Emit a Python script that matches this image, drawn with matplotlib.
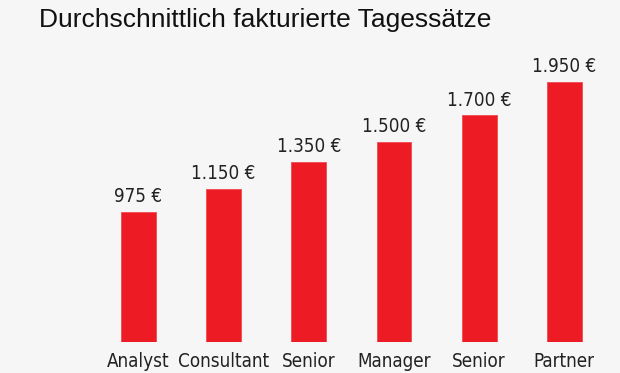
import matplotlib.pyplot as plt

# Datos del grafico
rollen = ['Analyst', 'Consultant', 'Senior', 'Manager', 'Senior', 'Partner']
tagessaetze = [975, 1150, 1350, 1500, 1700, 1950]
etiquetas = ['975 €', '1.150 €', '1.350 €', '1.500 €', '1.700 €', '1.950 €']

fig = plt.figure(figsize=(6.2, 3.73), dpi=100)
fig.patch.set_facecolor('#f6f6f6')
ax = fig.add_axes([95.9 / 620, 31 / 373, 511 / 620, 266.7 / 373])
ax.set_facecolor('none')

x = range(len(rollen))
bars = ax.bar(x, tagessaetze, width=0.41, color='#ed1c24', edgecolor='#f04a50', linewidth=0.6)

# Etiquetas de valor sobre cada barra
for bar, txt in zip(bars, etiquetas):
    ax.annotate(txt, (bar.get_x() + bar.get_width() / 2, bar.get_height()),
                xytext=(0, 4), textcoords='offset points', ha='center', va='bottom',
                fontsize=13.5, family='DejaVu Sans', fontstretch='condensed', color='#222222')

ax.set_xlim(-0.5, 5.5)
ax.set_ylim(0, 2000)
ax.set_xticks(list(x))
ax.set_xticklabels(rollen, fontsize=13.5, family='DejaVu Sans', fontstretch='condensed', color='#222222')
ax.tick_params(axis='x', length=0, pad=7)
ax.set_yticks([])
for s in ax.spines.values():
    s.set_visible(False)

fig.text(265 / 620, 1 - 20 / 373, 'Durchschnittlich fakturierte Tagessätze',
         ha='center', va='center', fontsize=19, family=['Liberation Sans', 'DejaVu Sans'], color='#111111')

fig.savefig('out.png', dpi=100, facecolor=fig.get_facecolor())
